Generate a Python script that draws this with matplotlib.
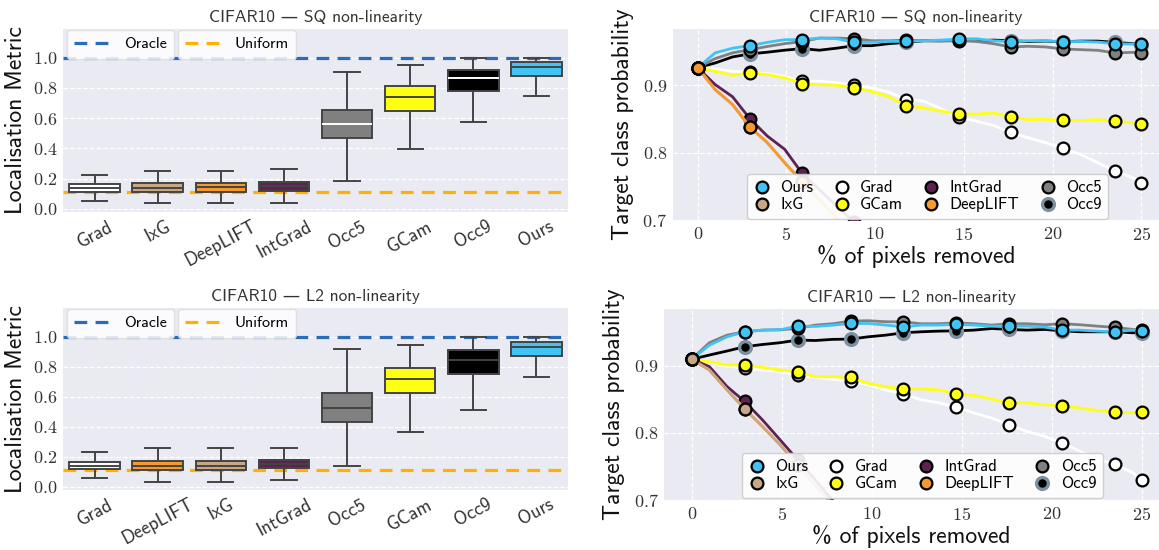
import matplotlib
matplotlib.use("Agg")
import matplotlib.pyplot as plt
from matplotlib.lines import Line2D
from matplotlib.ticker import FuncFormatter, MultipleLocator

plt.rcParams['mathtext.fontset'] = 'cm'
plt.rcParams['font.family'] = ['cmss10', 'DejaVu Sans']
plt.rcParams['axes.unicode_minus'] = False

# ---------------- data: box plots ----------------
sq_methods = ['Grad', 'IxG', 'DeepLIFT', 'IntGrad', 'Occ5', 'GCam', 'Occ9', 'Ours']
sq_whislo = [0.055, 0.038, 0.038, 0.042, 0.187, 0.397, 0.574, 0.744]
sq_q1 = [0.115, 0.113, 0.113, 0.121, 0.468, 0.649, 0.781, 0.879]
sq_med = [0.141, 0.141, 0.142, 0.152, 0.565, 0.742, 0.863, 0.936]
sq_q3 = [0.166, 0.170, 0.170, 0.181, 0.656, 0.815, 0.922, 0.969]
sq_whishi = [0.225, 0.250, 0.250, 0.263, 0.905, 0.954, 0.998, 0.998]

l2_methods = ['Grad', 'DeepLIFT', 'IxG', 'IntGrad', 'Occ5', 'GCam', 'Occ9', 'Ours']
l2_whislo = [0.062, 0.033, 0.033, 0.049, 0.138, 0.367, 0.509, 0.729]
l2_q1 = [0.118, 0.113, 0.113, 0.127, 0.431, 0.622, 0.751, 0.869]
l2_med = [0.142, 0.142, 0.142, 0.155, 0.527, 0.718, 0.844, 0.931]
l2_q3 = [0.167, 0.171, 0.171, 0.182, 0.627, 0.793, 0.911, 0.964]
l2_whishi = [0.231, 0.258, 0.258, 0.262, 0.918, 0.944, 0.998, 0.998]

oracle_value = 1.0
uniform_value = 0.112

# ---------------- data: pixel removal curves ----------------
# x positions (% of pixels removed), sampled every 10 steps of 256
pct = [i * 25 / 255 for i in list(range(0, 251, 10)) + [255]]

sq_curves = {
    'Occ9': [0.926, 0.933, 0.942, 0.9465, 0.949, 0.952, 0.9543, 0.952, 0.955, 0.9587, 0.9587, 0.9617, 0.9636,
             0.966, 0.966, 0.967, 0.966, 0.967, 0.966, 0.965, 0.9655, 0.9646, 0.9655, 0.9655, 0.9636, 0.9617, 0.960],
    'Occ5': [0.926, 0.9395, 0.948, 0.9528, 0.9575, 0.9617, 0.9648, 0.970, 0.970, 0.969, 0.966, 0.966, 0.967,
             0.966, 0.9655, 0.966, 0.965, 0.9617, 0.9568, 0.9578, 0.9568, 0.9538, 0.9528, 0.9518, 0.948, 0.9488, 0.948],
    'Grad': [0.926, 0.9243, 0.9207, 0.919, 0.917, 0.913, 0.906, 0.906, 0.9037, 0.900, 0.896, 0.8897, 0.8788,
             0.8763, 0.865, 0.8527, 0.8468, 0.8404, 0.830, 0.822, 0.8148, 0.8063, 0.7975, 0.785, 0.7724, 0.763, 0.7556],
    'GCam': [0.926, 0.9207, 0.9148, 0.9183, 0.916, 0.911, 0.9025, 0.901, 0.900, 0.896, 0.891, 0.883, 0.869,
             0.8665, 0.8615, 0.8577, 0.857, 0.859, 0.8532, 0.849, 0.8495, 0.8478, 0.8478, 0.849, 0.8468, 0.8443, 0.8419],
    'Ours': [0.926, 0.948, 0.955, 0.9587, 0.9636, 0.9676, 0.9676, 0.970, 0.969, 0.9636, 0.9636, 0.965, 0.965,
             0.966, 0.967, 0.9686, 0.969, 0.966, 0.9646, 0.966, 0.966, 0.9646, 0.965, 0.964, 0.9617, 0.961, 0.9617],
    'IntGrad': [0.926, 0.901, 0.883, 0.8503, 0.8246, 0.8049, 0.7694, 0.745, 0.720, 0.697, 0.670],
    'IxG': [0.926, 0.8936, 0.8714, 0.8379, 0.8148, 0.785, 0.757, 0.730, 0.702, 0.675],
    'DeepLIFT': [0.926, 0.8936, 0.8714, 0.8379, 0.8148, 0.785, 0.757, 0.730, 0.702, 0.675],
}
sq_order = ['Occ9', 'Occ5', 'Grad', 'GCam', 'Ours', 'IntGrad', 'IxG', 'DeepLIFT']

l2_curves = {
    'Occ9': [0.910, 0.9163, 0.9223, 0.9287, 0.932, 0.9347, 0.9386, 0.938, 0.9397, 0.9401, 0.9435, 0.946, 0.9495,
             0.951, 0.952, 0.9524, 0.9535, 0.9559, 0.9545, 0.9535, 0.9545, 0.9524, 0.951, 0.951, 0.951, 0.9495, 0.9495],
    'Occ5': [0.910, 0.9347, 0.946, 0.951, 0.9535, 0.954, 0.956, 0.961, 0.963, 0.9669, 0.9675, 0.966, 0.9658,
             0.963, 0.963, 0.9644, 0.963, 0.961, 0.963, 0.963, 0.9615, 0.963, 0.9615, 0.9594, 0.9575, 0.9545, 0.9535],
    'Grad': [0.910, 0.906, 0.900, 0.8965, 0.894, 0.8916, 0.8866, 0.883, 0.880, 0.878, 0.872, 0.864, 0.858,
             0.8495, 0.845, 0.8386, 0.8297, 0.8223, 0.8123, 0.8024, 0.795, 0.7851, 0.7727, 0.761, 0.753, 0.7406, 0.7296],
    'GCam': [0.910, 0.9064, 0.9015, 0.9015, 0.898, 0.894, 0.8916, 0.884, 0.884, 0.883, 0.874, 0.869, 0.8658,
             0.8658, 0.8643, 0.858, 0.856, 0.8505, 0.8446, 0.845, 0.842, 0.841, 0.837, 0.8336, 0.8312, 0.830, 0.832],
    'Ours': [0.910, 0.931, 0.9435, 0.951, 0.9535, 0.954, 0.9594, 0.959, 0.9609, 0.9634, 0.9634, 0.961, 0.9584,
             0.961, 0.961, 0.962, 0.961, 0.9594, 0.9594, 0.9594, 0.958, 0.9535, 0.9535, 0.952, 0.951, 0.9535, 0.9524],
    'IntGrad': [0.910, 0.899, 0.8693, 0.847, 0.8198, 0.790, 0.760, 0.730, 0.699, 0.670],
    'DeepLIFT': [0.910, 0.894, 0.8643, 0.836, 0.810, 0.7826, 0.752, 0.722, 0.693, 0.665],
    'IxG': [0.910, 0.894, 0.8643, 0.836, 0.810, 0.7826, 0.752, 0.722, 0.693, 0.665],
}
l2_order = ['Occ9', 'Occ5', 'Grad', 'GCam', 'Ours', 'IntGrad', 'DeepLIFT', 'IxG']

legend_order = ['Ours', 'IxG', 'Grad', 'GCam', 'IntGrad', 'DeepLIFT', 'Occ5', 'Occ9']

# ---------------- styles ----------------
colors = {
    'Grad': '#ffffff', 'IxG': '#c8a784', 'DeepLIFT': '#f79a2e', 'IntGrad': '#5e2152',
    'Occ5': '#808080', 'GCam': '#ffff14', 'Occ9': '#000000', 'Ours': '#40c4f4',
}
marker_edge = {k: '#000000' for k in colors}
marker_edge['Occ9'] = '#7d90a0'
EDGE = '#444444'
BG = '#EAEAF2'
ORACLE = '#2a6cb7'
UNIFORM = '#ffb000'
TICKC = '#333333'

W, H = 1159, 550
fig = plt.figure(figsize=(W / 100, H / 100), dpi=100)


def ax_at(l, t, r, b):
    return fig.add_axes([l / W, 1 - b / H, (r - l) / W, (b - t) / H])


def style_ax(ax):
    ax.set_facecolor(BG)
    for s in ax.spines.values():
        s.set_visible(False)
    ax.tick_params(length=0, colors=TICKC, pad=4)
    ax.set_axisbelow(True)


cm_fmt1 = FuncFormatter(lambda v, p: r'$%.1f$' % v)
cm_fmt0 = FuncFormatter(lambda v, p: r'$%d$' % round(v))


def box_panel(ax, title, methods, lo, q1, med, q3, hi, median_colors):
    style_ax(ax)
    stats = []
    for i, m in enumerate(methods):
        stats.append(dict(label=m, whislo=lo[i], q1=q1[i], med=med[i], q3=q3[i], whishi=hi[i], fliers=[]))
    bp = ax.bxp(stats, positions=range(len(methods)), widths=0.8, patch_artist=True,
                showfliers=False, capwidths=0.4,
                boxprops=dict(edgecolor=EDGE, linewidth=1.4),
                whiskerprops=dict(color=EDGE, linewidth=1.4),
                capprops=dict(color=EDGE, linewidth=1.4),
                medianprops=dict(color=EDGE, linewidth=1.4))
    for patch, m in zip(bp['boxes'], methods):
        patch.set_facecolor(colors[m])
    for line, c in zip(bp['medians'], median_colors):
        line.set_color(c)
    ax.axhline(oracle_value, color=ORACLE, ls=(0, (4, 2.6)), lw=2.3, zorder=1.5)
    ax.axhline(uniform_value, color=UNIFORM, ls=(0, (4, 2.6)), lw=2.3, zorder=1.5)
    ax.set_xlim(-0.5, 7.5)
    ax.set_ylim(-0.02, 1.19)
    ax.yaxis.set_major_locator(MultipleLocator(0.2))
    ax.yaxis.set_major_formatter(cm_fmt1)
    ax.grid(axis='y', color='white', ls='--', lw=0.9)
    ax.grid(axis='x', visible=False)
    ax.set_xticks(range(len(methods)))
    ax.set_xticklabels(methods, rotation=28, fontsize=13.5, color=TICKC)
    for lab in ax.get_xticklabels():
        lab.set_horizontalalignment('center')
    ax.tick_params(axis='y', labelsize=13)
    ax.set_ylabel('Localisation Metric', fontsize=17, color='#111111', labelpad=4)
    ax.set_title(title, fontsize=12.5, color=TICKC, pad=5)
    h1 = Line2D([], [], color=ORACLE, ls=(0, (4, 2.6)), lw=2.3)
    h2 = Line2D([], [], color=UNIFORM, ls=(0, (4, 2.6)), lw=2.3)
    kw = dict(fontsize=11.5, frameon=True, fancybox=True, framealpha=0.85, facecolor='white',
              edgecolor='#dddddd', handlelength=2.2, handletextpad=0.9, borderpad=0.45,
              loc='upper left', borderaxespad=0)
    leg1 = ax.legend([h1], ['Oracle'], bbox_to_anchor=(4 / 505, 1.0 - 1 / 183), **kw)
    ax.add_artist(leg1)
    ax.legend([h2], ['Uniform'], bbox_to_anchor=(115 / 505, 1.0 - 1 / 183), **kw)


def curve_panel(ax, title, curves, order, xlim, ylim, leg_anchor):
    style_ax(ax)
    for name in order:
        ys = curves[name]
        xs = pct[:len(ys)]
        n = len(ys)
        marks = [i for i in range(0, n, 3)]
        if n == len(pct) and (n - 1) not in marks:
            marks.append(n - 1)
        ax.plot(xs, ys, color=colors[name], lw=2.0, marker='o', markevery=marks, ms=8.5,
                mfc=colors[name], mec=marker_edge[name], mew=1.6 if name != 'Occ9' else 2.4)
    ax.set_xlim(*xlim)
    ax.set_ylim(*ylim)
    ax.xaxis.set_major_locator(MultipleLocator(5))
    ax.yaxis.set_major_locator(MultipleLocator(0.1))
    ax.xaxis.set_major_formatter(cm_fmt0)
    ax.yaxis.set_major_formatter(cm_fmt1)
    ax.tick_params(labelsize=13)
    ax.grid(True, color='white', ls='--', lw=0.9)
    ax.set_xlabel('% of pixels removed', fontsize=17, color='#111111', labelpad=2)
    ax.set_ylabel('Target class probability', fontsize=17, color='#111111', labelpad=6)
    ax.set_title(title, fontsize=12.5, color=TICKC, pad=5)
    handles = [Line2D([], [], ls='none', marker='o', ms=8.5, mfc=colors[n], mec=marker_edge[n],
                      mew=1.6 if n != 'Occ9' else 2.4) for n in legend_order]
    ax.legend(handles, legend_order, ncol=4, fontsize=12, loc='lower left', bbox_to_anchor=leg_anchor,
              borderaxespad=0, frameon=True, fancybox=True, framealpha=0.9, facecolor='white',
              edgecolor='#cccccc', handlelength=1.0, handletextpad=0.6, columnspacing=1.2,
              labelspacing=0.12, borderpad=0.4)


ax1 = ax_at(63, 29, 568, 212)
box_panel(ax1, 'CIFAR10 — SQ non-linearity', sq_methods, sq_whislo, sq_q1, sq_med, sq_q3, sq_whishi,
          [EDGE, EDGE, EDGE, EDGE, '#ffffff', EDGE, '#ffffff', EDGE])
ax3 = ax_at(63, 308, 568, 490)
box_panel(ax3, 'CIFAR10 — L2 non-linearity', l2_methods, l2_whislo, l2_q1, l2_med, l2_q3, l2_whishi,
          [EDGE] * 8)

ax2 = ax_at(672.7, 29.3, 1159, 220)
curve_panel(ax2, 'CIFAR10 — SQ non-linearity', sq_curves, sq_order, (-1.41, 26.0), (0.7, 0.983),
            ((747 - 672.7) / 486.3, 0.005))
ax4 = ax_at(664, 309, 1159, 500)
curve_panel(ax4, 'CIFAR10 — L2 non-linearity', l2_curves, l2_order, (-1.54, 25.96), (0.7, 0.985),
            ((741.7 - 664) / 495, 0.01))

fig.savefig('out.png', dpi=100)
